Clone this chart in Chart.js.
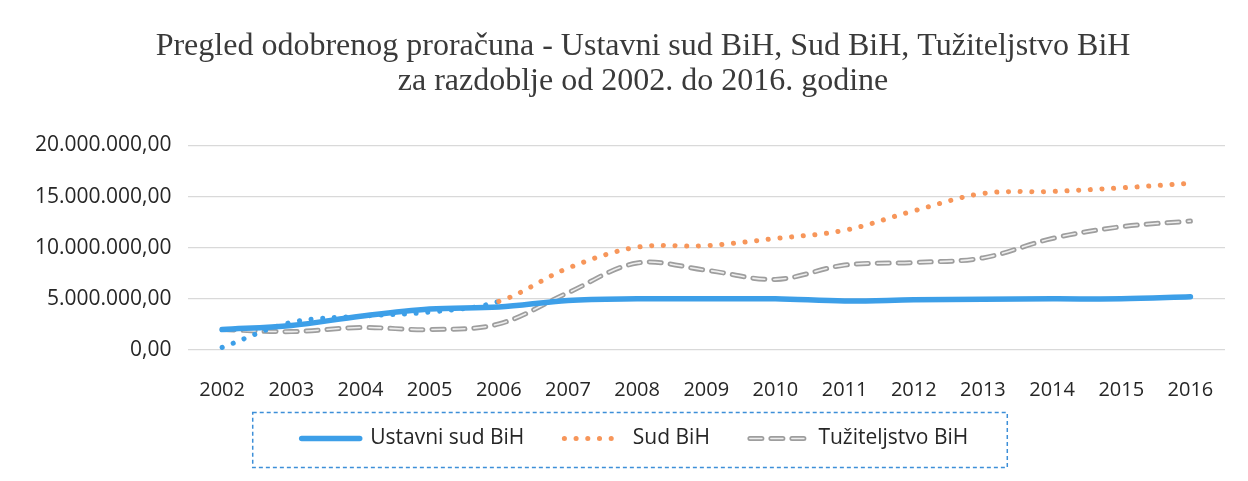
<!DOCTYPE html>
<html>
<head>
<meta charset="utf-8">
<script src="https://cdn.jsdelivr.net/npm/chart.js@4.4.1/dist/chart.umd.min.js"></script>
<style>
  html, body { margin: 0; padding: 0; background: #fff; }
  #wrap { width: 1248px; height: 481px; }
</style>
</head>
<body>
<div id="wrap"><canvas id="mycanvas" width="1248" height="481"></canvas></div>
<script>
var years = ['2002', '2003', '2004', '2005', '2006', '2007', '2008', '2009',
	'2010', '2011', '2012', '2013', '2014', '2015', '2016'];

// Ustavni sud BiH
var ustavniSud = [2000000, 2400000, 3300000, 4000000, 4200000, 4850000, 5000000, 5000000,
	5000000, 4800000, 4900000, 4950000, 5000000, 5000000, 5200000];

// Sud BiH
var sudBih = [250000, 2700000, 3300000, 3700000, 4750000, 8000000, 10050000, 10200000,
	10900000, 11700000, 13600000, 15300000, 15500000, 15850000, 16300000];

// Tuziteljstvo BiH
var tuziteljstvo = [2000000, 1800000, 2200000, 2000000, 2550000, 5600000, 8500000, 7800000,
	6900000, 8300000, 8550000, 9000000, 10900000, 12050000, 12600000];

var yTicks = [0, 5000000, 10000000, 15000000, 20000000];

function formatBroj(v) {
	var s = Math.round(v).toString().replace(/\B(?=(\d{3})+(?!\d))/g, '.');
	return s + ',00';
}

var blue = '#3d9fe8';
var orange = '#f7965a';
var grey = '#9e9e9e';

var extras = {
	id: 'extras',
	// nudge title and legend like in the original sheet
	afterLayout: function(chart) {
		var t = chart.titleBlock;
		t.left += 21; t.right += 21;
		var lg = chart.legend;
		lg.left += 13; lg.right += 13;
		lg.top -= 42;
		lg.bottom = chart.height;
		lg.height = lg.bottom - lg.top;
	},
	// white core in the grey dashes
	afterDatasetDraw: function(chart, args) {
		if (args.index !== 2) return;
		var el = args.meta.dataset;
		var ctx = chart.ctx;
		ctx.save();
		ctx.strokeStyle = '#eeeeee';
		ctx.lineWidth = 1.6;
		ctx.lineCap = 'round';
		ctx.setLineDash([12, 9]);
		ctx.beginPath();
		el.path(ctx);
		ctx.stroke();
		ctx.restore();
	},
	afterDraw: function(chart) {
		var lg = chart.legend;
		if (!lg || !lg.legendHitBoxes.length) return;
		var boxes = lg.legendHitBoxes;
		var left = boxes[0].left;
		var last = boxes[boxes.length - 1];
		var right = last.left + last.width;
		var cy = boxes[0].top + boxes[0].height / 2;
		var ctx = chart.ctx;
		ctx.save();
		var bw = lg.options.labels.pointStyleWidth;
		ctx.strokeStyle = '#eeeeee';
		ctx.lineWidth = 1.6;
		ctx.lineCap = 'round';
		ctx.setLineDash([12, 9]);
		ctx.beginPath();
		ctx.moveTo(last.left, cy);
		ctx.lineTo(last.left + bw, cy);
		ctx.stroke();
		// dashed frame
		ctx.strokeStyle = '#3d8fd8';
		ctx.lineWidth = 1.5;
		ctx.setLineDash([4, 3]);
		ctx.lineCap = 'butt';
		ctx.strokeRect(left - 49, cy - 26, right - left + 88, 55);
		ctx.restore();
	}
};

var chartdata = {
	labels: years,
	datasets: [
		{
			label: 'Ustavni sud BiH',
			data: ustavniSud,
			borderColor: blue,
			backgroundColor: blue,
			borderWidth: 5.5,
			borderCapStyle: 'round',
			tension: 0.35,
			pointRadius: 0,
			fill: false,
			order: 0
		},
		{
			label: 'Sud BiH',
			data: sudBih,
			borderColor: orange,
			backgroundColor: orange,
			borderWidth: 5,
			borderDash: [0.1, 11.6],
			borderCapStyle: 'round',
			tension: 0.35,
			pointRadius: 0,
			fill: false,
			order: 1,
			segment: {
				borderColor: function(c) { return c.p0DataIndex < 4 ? blue : orange; }
			}
		},
		{
			label: 'Tužiteljstvo BiH',
			data: tuziteljstvo,
			borderColor: grey,
			backgroundColor: grey,
			borderWidth: 5,
			borderDash: [12, 9],
			borderCapStyle: 'round',
			tension: 0.35,
			pointRadius: 0,
			fill: false,
			order: 2
		}
	]
};

var ctx = document.getElementById('mycanvas');

var LineGraph = new Chart(ctx, {
	type: 'line',
	data: chartdata,
	plugins: [extras],
	options: {
		responsive: false,
		animation: false,
		layout: { padding: { left: 19, right: 23, top: 0, bottom: 11 } },
		plugins: {
			title: {
				display: true,
				text: ['Pregled odobrenog proračuna - Ustavni sud BiH, Sud BiH, Tužiteljstvo BiH',
					'za razdoblje od 2002. do 2016. godine'],
				color: '#3a3a3a',
				font: { family: '"Liberation Serif", "Times New Roman", serif', size: 32, weight: 'normal', lineHeight: 1.1 },
				padding: { top: 29, bottom: 46 }
			},
			legend: {
				position: 'bottom',
				maxHeight: 40,
				labels: {
					usePointStyle: true,
					pointStyle: 'line',
					pointStyleWidth: 58,
					boxHeight: 10,
					padding: 40,
					color: '#262626',
					font: { family: '"Open Sans", sans-serif', size: 21 },
					generateLabels: function(chart) {
						var items = Chart.defaults.plugins.legend.labels.generateLabels(chart);
						items.forEach(function(it) {
							var ds = chart.data.datasets[it.datasetIndex];
							it.lineDash = ds.borderDash || [];
							it.lineWidth = ds.borderWidth;
							it.strokeStyle = ds.borderColor;
							it.fillStyle = ds.borderColor;
							it.lineCap = 'round';
						});
						return items;
					}
				}
			},
			tooltip: { enabled: false }
		},
		scales: {
			x: {
				offset: true,
				grid: { display: false, drawTicks: false },
				border: { display: false },
				ticks: {
					padding: 28,
					color: '#262626',
					maxRotation: 0,
					font: { family: '"Open Sans", sans-serif', size: 20 }
				}
			},
			y: {
				min: 0,
				max: 20000000,
				afterBuildTicks: function(axis) {
					axis.ticks = yTicks.map(function(v) { return { value: v }; });
				},
				grid: { color: '#d9d9d9', lineWidth: 1.3, drawTicks: false },
				border: { display: false },
				ticks: {
					padding: 16,
					color: '#262626',
					font: { family: '"Open Sans", sans-serif', size: 21 },
					callback: function(v) { return formatBroj(v); }
				}
			}
		}
	}
});
</script>
</body>
</html>
